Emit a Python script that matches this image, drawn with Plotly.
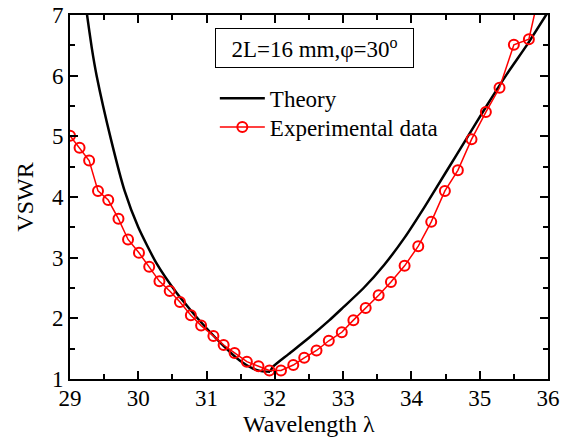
import plotly.graph_objects as go

# Theory curve (wavelength, VSWR): left branch and right branch (kink near 32)
theory_left_x = [29.2, 29.25, 29.32, 29.39, 29.6, 29.8, 30.0, 30.27, 30.56, 30.77, 30.9,
                 31.2, 31.49, 31.68, 31.8, 31.93]
theory_left_y = [7.45, 7.0, 6.45, 6.0, 4.95, 4.1, 3.5, 2.9, 2.42, 2.13, 1.96,
                 1.6, 1.3, 1.17, 1.13, 1.12]
theory_right_x = [31.93, 31.97, 32.2, 32.5, 32.8, 33.0, 33.3, 33.6, 33.9, 34.2, 34.5,
                  34.8, 35.1, 35.4, 35.7, 36.0]
theory_right_y = [1.12, 1.2, 1.41, 1.68, 1.97, 2.18, 2.50, 2.88, 3.33, 3.85, 4.40,
                  4.95, 5.5, 6.03, 6.52, 7.05]

# Experimental data
exp_x = [29.0, 29.14, 29.28, 29.41, 29.56, 29.71, 29.85, 30.01, 30.16, 30.31, 30.46, 30.61,
         30.77, 30.92, 31.10, 31.25, 31.41, 31.59, 31.76, 31.92, 32.09, 32.27, 32.43, 32.61,
         32.79, 32.98, 33.15, 33.33, 33.52, 33.70, 33.90, 34.10, 34.29, 34.49, 34.68, 34.88,
         35.09, 35.29, 35.50, 35.72, 35.92]
exp_y = [5.01, 4.81, 4.60, 4.10, 3.95, 3.64, 3.30, 3.08, 2.85, 2.61, 2.45, 2.27,
         2.05, 1.88, 1.71, 1.56, 1.43, 1.285, 1.21, 1.14, 1.14, 1.23, 1.35, 1.47,
         1.63, 1.77, 1.97, 2.17, 2.38, 2.60, 2.865, 3.19, 3.59, 4.10, 4.44, 4.95,
         5.40, 5.80, 6.51, 6.60, 7.6]

x_ticks = [29, 30, 31, 32, 33, 34, 35, 36]
y_ticks = [1, 2, 3, 4, 5, 6, 7]

FONT = "Liberation Serif, Times New Roman, serif"

fig = go.Figure()
theory_line = dict(color="black", width=2.5, shape="spline", smoothing=0.6)
fig.add_trace(go.Scatter(x=theory_left_x, y=theory_left_y, mode="lines", name="Theory",
                         line=theory_line, legend="legend", legendgroup="th"))
fig.add_trace(go.Scatter(x=theory_right_x, y=theory_right_y, mode="lines", name="Theory",
                         line=theory_line, legendgroup="th", showlegend=False))
fig.add_trace(go.Scatter(x=exp_x, y=exp_y, mode="lines+markers", name="Experimental data",
                         line=dict(color="red", width=1.5),
                         marker=dict(symbol="circle-open", size=10, color="red",
                                     line=dict(width=2, color="red")),
                         legend="legend2"))

axis_common = dict(showline=True, linecolor="black", linewidth=2, mirror="ticks",
                   ticks="inside", ticklen=8, tickwidth=2, tickcolor="black",
                   showgrid=False, zeroline=False, automargin=False,
                   tickfont=dict(family=FONT, size=23, color="black"),
                   minor=dict(ticks="inside", ticklen=5, tickwidth=2, tickcolor="black"))

fig.update_xaxes(range=[29, 36], tickvals=x_ticks, ticktext=[str(v) for v in x_ticks],
                 minor_dtick=0.5, ticklabelstandoff=-3,
                 **axis_common)
fig.update_yaxes(range=[1, 7], tickvals=y_ticks, ticktext=[str(v) for v in y_ticks],
                 minor_dtick=0.5,
                 title=dict(text="VSWR", font=dict(family=FONT, size=24, color="black"),
                            standoff=12),
                 **axis_common)

# x-axis title placed precisely
fig.add_annotation(x=0.5, y=-0.124, xref="paper", yref="paper",
                   xanchor="center", yanchor="middle", showarrow=False,
                   text="Wavelength λ", font=dict(family=FONT, size=24, color="black"))

fig.add_annotation(x=0.511, y=0.910, xref="paper", yref="paper",
                   xanchor="center", yanchor="middle",
                   text="2L=16 mm,φ=30<sup>o</sup>", showarrow=False,
                   font=dict(family=FONT, size=23, color="black"),
                   bordercolor="black", borderwidth=1, width=195, height=36,
                   bgcolor="white")

legend_common = dict(xanchor="left", yanchor="middle", bgcolor="rgba(0,0,0,0)",
                     borderwidth=0, itemwidth=45,
                     font=dict(family=FONT, size=23, color="black"))

fig.update_layout(
    width=575, height=440,
    margin=dict(l=70, r=27, t=15, b=61),
    plot_bgcolor="white", paper_bgcolor="white",
    font=dict(family=FONT, color="black"),
    legend=dict(x=0.303, y=0.771, **legend_common),
    legend2=dict(x=0.303, y=0.692, **legend_common),
    showlegend=True,
)

fig.write_html("out.html", config={"displayModeBar": False},
               post_script="document.body.style.margin='0px';")
